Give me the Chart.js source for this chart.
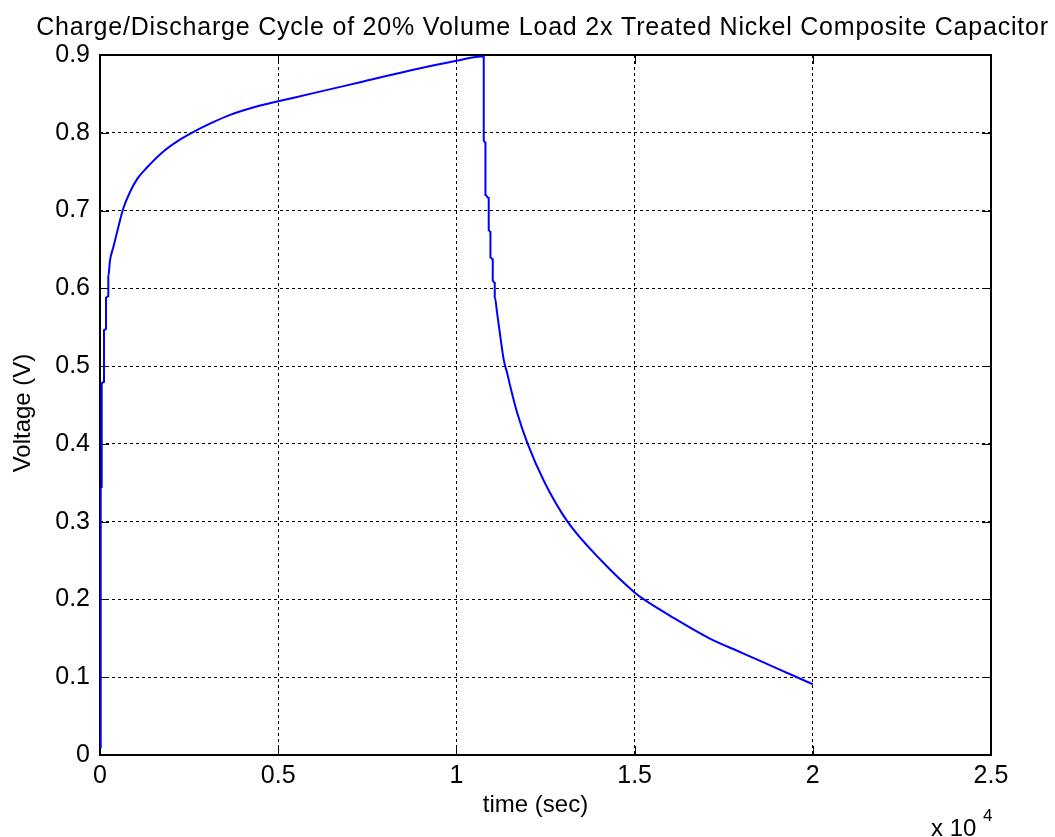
<!DOCTYPE html>
<html>
<head>
<meta charset="utf-8">
<title>Charge/Discharge Cycle</title>
<script src="https://cdn.jsdelivr.net/npm/chart.js@4.4.1/dist/chart.umd.min.js"></script>
<style>
    html, body { margin: 0; padding: 0; background: #fff; }
    #wrap { width: 1055px; height: 837px; position: relative; }
</style>
</head>
<body>
<div id="wrap"><canvas id="cycleChart"></canvas></div>
<script>
// Charge then discharge, time in seconds / voltage in volts
const timeSec = [
    0, 20, 20, 48, 48, 112, 112, 169, 169, 233, 233, 281, 375, 515, 655, 843,
    1050, 1311, 1778, 2200, 2575, 3100, 3652, 4494, 5000, 5900, 7300, 8700,
    10000, 10700, 10767,
    10767, 10815, 10815, 10907, 10907, 10955, 10955, 11020, 11020, 11076, 11076,
    11143, 11236, 11329, 11424, 11517, 11705, 12000, 12480, 13118, 14065,
    15000, 15262, 16105, 17100, 17978, 18914, 19382, 20000
];
const voltage = [
    0.008, 0.01, 0.343, 0.345, 0.478, 0.48, 0.546, 0.548, 0.588, 0.59, 0.615, 0.636, 0.653, 0.679, 0.703, 0.724,
    0.741, 0.755, 0.776, 0.790, 0.800, 0.812, 0.823, 0.835, 0.8405, 0.850, 0.865, 0.880,
    0.8925, 0.898, 0.898,
    0.79, 0.787, 0.72, 0.716, 0.675, 0.672, 0.64, 0.637, 0.61, 0.607, 0.589,
    0.568, 0.537, 0.508, 0.491, 0.473, 0.440, 0.400, 0.350, 0.300, 0.250,
    0.209, 0.200, 0.176, 0.150, 0.132, 0.113, 0.1035, 0.091
];

// Axis ticks (x shown in units of 10^4 s)
const xTicks = [0, 5000, 10000, 15000, 20000, 25000];
const xTickLabels = ['0', '0.5', '1', '1.5', '2', '2.5'];
const yTicks = [0, 0.1, 0.2, 0.3, 0.4, 0.5, 0.6, 0.7, 0.8, 0.9];
const yTickLabels = ['0', '0.1', '0.2', '0.3', '0.4', '0.5', '0.6', '0.7', '0.8', '0.9'];

const FONT = '"Liberation Sans", Arial, Helvetica, sans-serif';
const TITLE = 'Charge/Discharge Cycle of 20% Volume Load 2x Treated Nickel Composite Capacitor';

// Box around the plot, inward tick marks, title, axis labels, exponent
const matlabAxes = {
    id: 'matlabAxes',
    beforeDatasetsDraw(chart) {
        const { ctx, chartArea: a, scales } = chart;
        const len = 9;
        ctx.save();
        ctx.strokeStyle = '#000';
        ctx.lineWidth = 1;
        ctx.beginPath();
        xTicks.forEach(v => {
            const x = Math.round(scales.x.getPixelForValue(v)) + 0.5;
            ctx.moveTo(x, a.bottom); ctx.lineTo(x, a.bottom - len);
            ctx.moveTo(x, a.top); ctx.lineTo(x, a.top + len);
        });
        yTicks.forEach(v => {
            const y = Math.round(scales.y.getPixelForValue(v)) + 0.5;
            ctx.moveTo(a.left, y); ctx.lineTo(a.left + len, y);
            ctx.moveTo(a.right, y); ctx.lineTo(a.right - len, y);
        });
        ctx.stroke();
        ctx.lineWidth = 2;
        ctx.strokeRect(a.left, a.top, a.right - a.left, a.bottom - a.top);
        ctx.restore();
    },
    afterDraw(chart) {
        const { ctx, chartArea: a } = chart;
        ctx.save();
        ctx.fillStyle = '#000';
        ctx.textBaseline = 'alphabetic';

        ctx.font = '25px ' + FONT;
        ctx.textAlign = 'center';
        ctx.letterSpacing = '0.8px';
        ctx.fillText(TITLE, (a.left + a.right) / 2 - 3, 35);
        ctx.letterSpacing = '0px';

        ctx.font = '24px ' + FONT;
        ctx.fillText('time (sec)', (a.left + a.right) / 2 - 10, 812);

        ctx.save();
        ctx.translate(30, (a.top + a.bottom) / 2 + 8);
        ctx.rotate(-Math.PI / 2);
        ctx.fillText('Voltage (V)', 0, 0);
        ctx.restore();

        ctx.textAlign = 'left';
        ctx.fillText('x 10', 931, 836);
        ctx.font = '17px ' + FONT;
        ctx.fillText('4', 983, 821);
        ctx.restore();
    }
};

new Chart(document.getElementById('cycleChart'), {
    type: 'line',
    data: {
        datasets: [{
            data: timeSec.map((t, i) => ({ x: t, y: voltage[i] })),
            borderColor: '#0000ff',
            borderWidth: 2,
            pointRadius: 0,
            cubicInterpolationMode: 'monotone',
            fill: false
        }]
    },
    options: {
        responsive: true,
        maintainAspectRatio: false,
        animation: false,
        layout: { padding: { left: 0, right: 64, top: 55, bottom: 0 } },
        plugins: {
            legend: { display: false },
            tooltip: { enabled: false },
            title: { display: false }
        },
        scales: {
            x: {
                type: 'linear',
                min: 0,
                max: 25000,
                afterFit: s => { s.height = 82; },
                afterBuildTicks: s => { s.ticks = xTicks.map(v => ({ value: v })); },
                ticks: {
                    color: '#000',
                    font: { family: FONT, size: 25 },
                    padding: 6,
                    maxRotation: 0,
                    callback: v => xTickLabels[xTicks.indexOf(v)]
                },
                grid: { color: '#000', lineWidth: 1, drawTicks: false },
                border: { display: false, dash: [3, 3] }
            },
            y: {
                min: 0,
                max: 0.9,
                afterFit: s => { s.width = 100; },
                afterBuildTicks: s => { s.ticks = yTicks.map(v => ({ value: v })); },
                ticks: {
                    color: '#000',
                    font: { family: FONT, size: 25 },
                    padding: 10,
                    callback: (v, i) => yTickLabels[i]
                },
                grid: { color: '#000', lineWidth: 1, drawTicks: false },
                border: { display: false, dash: [3, 3] }
            }
        }
    },
    plugins: [matlabAxes]
});
</script>
</body>
</html>
